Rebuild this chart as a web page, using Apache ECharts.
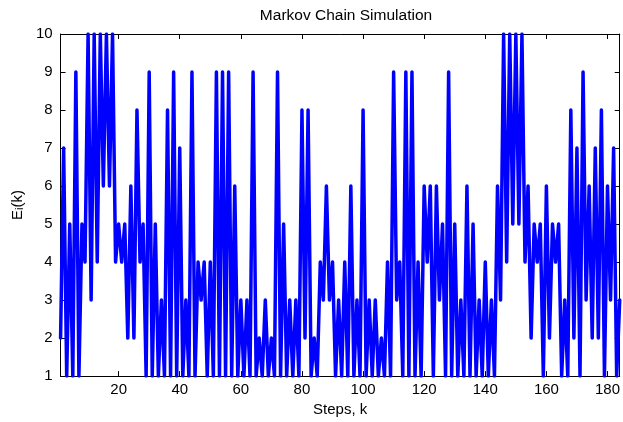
<!DOCTYPE html>
<html>
<head>
<meta charset="utf-8">
<script src="https://cdn.jsdelivr.net/npm/echarts@6/dist/echarts.min.js"></script>
<style>
  html, body { margin: 0; padding: 0; background: #ffffff; }
  #chart { width: 623px; height: 422px; }
</style>
</head>
<body>
<div id="chart"></div>
<script>
// State visited at each step of the simulated chain (step k = 1 .. 184)
const chainStates = [
  2, 7, 1, 5, 1, 9, 1, 5, 4, 10,
  3, 10, 4, 10, 6, 10, 6, 10, 4, 5,
  4, 5, 2, 6, 2, 8, 4, 5, 1, 9,
  1, 5, 1, 3, 1, 8, 1, 9, 1, 7,
  1, 3, 1, 9, 1, 4, 3, 4, 1, 4,
  1, 9, 1, 9, 1, 9, 1, 6, 1, 3,
  1, 3, 1, 9, 1, 2, 1, 3, 1, 2,
  1, 9, 1, 5, 1, 3, 1, 3, 1, 8,
  2, 8, 1, 2, 1, 4, 3, 6, 3, 4,
  1, 3, 1, 4, 1, 6, 1, 3, 1, 8,
  1, 3, 1, 3, 1, 2, 1, 4, 1, 9,
  3, 4, 1, 9, 1, 9, 1, 4, 1, 6,
  4, 6, 1, 6, 3, 5, 1, 9, 1, 5,
  1, 3, 1, 6, 1, 5, 1, 3, 1, 4,
  1, 3, 1, 6, 3, 10, 4, 10, 5, 10,
  5, 10, 4, 6, 2, 5, 4, 5, 1, 6,
  2, 5, 4, 5, 1, 3, 1, 8, 2, 7,
  1, 9, 3, 6, 2, 7, 2, 8, 1, 6,
  3, 7, 1, 3
];

// Axis ranges and tick positions
const stepRange = [1, 184];
const stepTicks = [20, 40, 60, 80, 100, 120, 140, 160, 180];
const stateRange = [1, 10];

const points = chainStates.map((s, i) => [i + 1, s]);

const FONT = '"Liberation Sans", Arial, Helvetica, sans-serif';
const tickStyle = { show: true, inside: true, length: 5, lineStyle: { color: '#000', width: 1 } };
const lineAxis = { show: true, lineStyle: { color: '#000', width: 1 } };

const chart = echarts.init(document.getElementById('chart'), null, { renderer: 'canvas' });

chart.setOption({
  animation: false,
  backgroundColor: '#ffffff',
  title: {
    text: 'Markov Chain Simulation',
    left: 341,
    textAlign: 'center',
    top: 3,
    textStyle: { fontFamily: FONT, fontSize: 15.5, fontWeight: 'normal', color: '#000' }
  },
  grid: { left: 60, right: 1, top: 34, bottom: 40, containLabel: false },
  xAxis: [
    {
      type: 'value',
      min: stepRange[0],
      max: stepRange[1],
      name: 'Steps, k',
      nameLocation: 'middle',
      nameGap: 23,
      nameTextStyle: { fontFamily: FONT, fontSize: 15, color: '#000' },
      axisLine: lineAxis,
      axisTick: Object.assign({ customValues: stepTicks }, tickStyle),
      axisLabel: {
        customValues: stepTicks,
        margin: 6,
        fontFamily: FONT, fontSize: 15, color: '#000'
      },
      splitLine: { show: false }
    },
    {
      type: 'value',
      position: 'top',
      min: stepRange[0],
      max: stepRange[1],
      axisLine: lineAxis,
      axisTick: Object.assign({ customValues: stepTicks }, tickStyle),
      axisLabel: { show: false },
      splitLine: { show: false }
    }
  ],
  yAxis: [
    {
      type: 'value',
      min: stateRange[0],
      max: stateRange[1],
      interval: 1,
      name: '{n|E}{s|i}{n|(k)}',
      nameLocation: 'middle',
      nameGap: 34,
      nameRotate: 90,
      nameTextStyle: {
        fontFamily: FONT, fontSize: 15, color: '#000',
        rich: {
          n: { fontFamily: FONT, fontSize: 15, color: '#000', verticalAlign: 'bottom', lineHeight: 18 },
          s: { fontFamily: FONT, fontSize: 11, color: '#000', verticalAlign: 'bottom', lineHeight: 18, padding: [6, 0, 0, 0] }
        }
      },
      axisLine: lineAxis,
      axisTick: tickStyle,
      axisLabel: { margin: 8, fontFamily: FONT, fontSize: 15, color: '#000' },
      splitLine: { show: false }
    },
    {
      type: 'value',
      position: 'right',
      min: stateRange[0],
      max: stateRange[1],
      interval: 1,
      axisLine: lineAxis,
      axisTick: tickStyle,
      axisLabel: { show: false },
      splitLine: { show: false }
    }
  ],
  series: [
    {
      type: 'line',
      data: points,
      xAxisIndex: 0,
      yAxisIndex: 0,
      showSymbol: false,
      clip: true,
      lineStyle: { color: '#0000ff', width: 3.5, cap: 'round', join: 'round' }
    }
  ]
});
</script>
</body>
</html>
